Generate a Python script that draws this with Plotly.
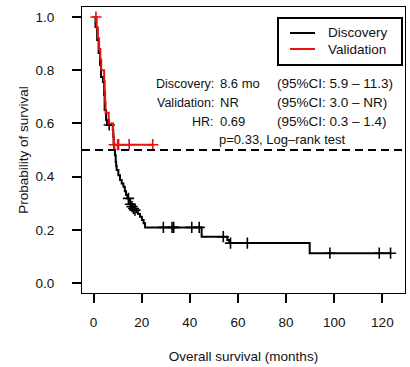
import plotly.graph_objects as go

# ---- data ----
disc_time = [0, 0.8, 1.5, 2.1, 2.7, 3.1, 3.9, 4.4, 4.6, 5.2, 5.6, 8.0, 8.2, 8.4, 8.6,
             8.9, 9.2, 9.4, 9.6, 10.3, 11.0, 11.7, 12.4, 13.0, 13.5, 14.1, 14.7, 15.3,
             15.9, 16.6, 17.2, 17.9, 18.5, 19.3, 20.1, 20.8, 21.4, 44.9, 55.6, 56.4,
             89.8, 123.4]
disc_surv = [1.0, 0.962, 0.914, 0.865, 0.82, 0.774, 0.756, 0.707, 0.65, 0.613, 0.594,
             0.575, 0.55, 0.525, 0.5, 0.48, 0.455, 0.44, 0.425, 0.405, 0.387, 0.374,
             0.362, 0.345, 0.331, 0.318, 0.305, 0.296, 0.287, 0.28, 0.274, 0.266, 0.259,
             0.249, 0.237, 0.225, 0.209, 0.174, 0.162, 0.150, 0.112, 0.112]
disc_cens_time = [6.5, 14.5, 15.3, 16.0, 16.6, 17.2, 29.0, 32.6, 33.3, 40.8, 43.9,
                  53.9, 56.9, 63.9, 98.2, 118.7, 123.4]
disc_cens_surv = [0.594, 0.318, 0.296, 0.287, 0.28, 0.274, 0.209, 0.209, 0.209, 0.209,
                  0.209, 0.174, 0.150, 0.150, 0.112, 0.112, 0.112]

val_time = [0, 1.3, 1.8, 2.3, 2.8, 3.2, 4.4, 4.6, 4.8, 5.0, 6.3, 8.1, 8.3, 24.6]
val_surv = [1.0, 0.96, 0.92, 0.88, 0.84, 0.80, 0.76, 0.72, 0.68, 0.64, 0.60, 0.56,
            0.52, 0.52]
val_cens_time = [1.0, 8.6, 10.0, 10.4, 14.8, 24.6]
val_cens_surv = [1.0, 0.52, 0.52, 0.52, 0.52, 0.52]

median_line = 0.5
x_ticks = [0, 20, 40, 60, 80, 100, 120]
y_ticks = [0.0, 0.2, 0.4, 0.6, 0.8, 1.0]
y_tick_labels = ["0.0", "0.2", "0.4", "0.6", "0.8", "1.0"]

series_names = ["Discovery", "Validation"]
stat_labels = ["Discovery:", "Validation:", "HR:"]
stat_values = ["8.6 mo", "NR", "0.69"]
stat_ci = ["(95%CI: 5.9 – 11.3)", "(95%CI: 3.0 – NR)", "(95%CI: 0.3 – 1.4)"]
test_text = "p=0.33, Log–rank test"

FONT = "Liberation Sans, Arial, Helvetica, sans-serif"
BLACK = "#000000"
RED = "#e8130f"
colors = [BLACK, RED]

fig = go.Figure()

fig.add_trace(go.Scatter(x=disc_time, y=disc_surv, mode="lines", line_shape="hv",
                         line=dict(color=BLACK, width=2), name=series_names[0],
                         showlegend=False))
fig.add_trace(go.Scatter(x=disc_cens_time, y=disc_cens_surv, mode="markers",
                         marker=dict(symbol="cross-thin", size=8,
                                     line=dict(color=BLACK, width=1.6)),
                         showlegend=False, hoverinfo="skip"))
fig.add_trace(go.Scatter(x=val_time, y=val_surv, mode="lines", line_shape="hv",
                         line=dict(color=RED, width=2), name=series_names[1],
                         showlegend=False))
fig.add_trace(go.Scatter(x=val_cens_time, y=val_cens_surv, mode="markers",
                         marker=dict(symbol="cross-thin", size=8,
                                     line=dict(color=RED, width=1.6)),
                         showlegend=False, hoverinfo="skip"))

fig.add_hline(y=median_line, line=dict(color=BLACK, width=2, dash="8px,5px"))

# legend box (drawn in paper coordinates)
fig.add_shape(type="rect", xref="paper", yref="paper", x0=0.6068, x1=0.9907,
              y0=0.7972, y1=0.9615, line=dict(color=BLACK, width=2),
              fillcolor="white", layer="above")
for name, col, yy in zip(series_names, colors, [0.9091, 0.8531]):
    fig.add_shape(type="line", xref="paper", yref="paper", x0=0.644, x1=0.7214,
                  y0=yy, y1=yy, line=dict(color=col, width=2), layer="above")
    fig.add_annotation(x=0.756, y=yy, xref="paper", yref="paper", text=name,
                       showarrow=False, xanchor="left", yanchor="middle",
                       font=dict(size=13.5))

# statistics text block
row_y = [0.7308, 0.6654, 0.599, 0.535]  # paper coords
for lab, val, ci, yy in zip(stat_labels, stat_values, stat_ci, row_y):
    fig.add_annotation(x=0.4149, y=yy, xref="paper", yref="paper", text=lab,
                       showarrow=False, xanchor="right", yanchor="middle",
                       font=dict(size=12.5))
    fig.add_annotation(x=0.4215, y=yy, xref="paper", yref="paper", text=val,
                       showarrow=False, xanchor="left", yanchor="middle")
    fig.add_annotation(x=0.5975, y=yy, xref="paper", yref="paper", text=ci,
                       showarrow=False, xanchor="left", yanchor="middle",
                       font=dict(size=13.5))
fig.add_annotation(x=0.419, y=row_y[3], xref="paper", yref="paper", text=test_text,
                   showarrow=False, xanchor="left", yanchor="middle")

fig.update_layout(
    width=410, height=367,
    margin=dict(l=82, r=5, t=7, b=74),
    paper_bgcolor="white", plot_bgcolor="white",
    font=dict(family=FONT, size=13, color="#111111"),
    showlegend=False,
    xaxis=dict(range=[-4.8, 129.4], tickvals=x_ticks, ticks="outside", ticklen=9,
               tickwidth=1.6, tickcolor=BLACK, showline=True, linecolor=BLACK,
               linewidth=1, mirror=True, showgrid=False, zeroline=False,
               ticklabelstandoff=8, tickfont=dict(size=13.5),
               title=dict(text="Overall survival (months)", standoff=22,
                          font=dict(size=13.5))),
    yaxis=dict(range=[-0.0376, 1.0376], tickvals=y_ticks, ticktext=y_tick_labels,
               ticks="outside", ticklen=9, tickwidth=1.6, tickcolor=BLACK,
               showline=True, linecolor=BLACK, linewidth=1, mirror=True,
               showgrid=False, zeroline=False, ticklabelstandoff=15,
               tickfont=dict(size=13.5),
               title=dict(text="Probability of survival", standoff=3,
                          font=dict(size=13.5))),
)

fig.write_html("out.html", config={"displayModeBar": False},
               post_script="document.body.style.margin='0px';")
